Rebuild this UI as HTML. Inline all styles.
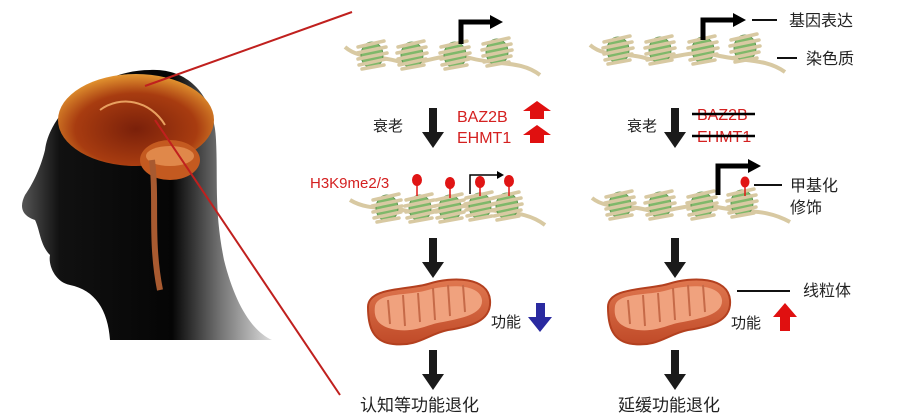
<!DOCTYPE html>
<html><head><meta charset="utf-8"><style>
body{margin:0;background:#fff;}
svg{display:block;}
text{font-family:"Liberation Sans","Noto Sans CJK SC",sans-serif;}
</style></head><body>
<svg width="900" height="417" viewBox="0 0 900 417" xmlns="http://www.w3.org/2000/svg">
<defs>
<radialGradient id="brain" cx="0.5" cy="0.6" r="0.65"><stop offset="0" stop-color="#7a200a"/><stop offset="0.6" stop-color="#a83c10"/><stop offset="0.9" stop-color="#e0902e"/><stop offset="1" stop-color="#f2c070"/></radialGradient>
<linearGradient id="head" x1="0" x2="1"><stop offset="0" stop-color="#555"/><stop offset="0.15" stop-color="#111"/><stop offset="0.6" stop-color="#050505"/><stop offset="0.8" stop-color="#777"/><stop offset="1" stop-color="#ddd"/></linearGradient>
<linearGradient id="mito" x1="0" y1="0" x2="0" y2="1"><stop offset="0" stop-color="#e07850"/><stop offset="1" stop-color="#c04a28"/></linearGradient>
<g id="nuc">
<ellipse cx="0" cy="0" rx="11" ry="13" fill="#7fb86a" stroke="#5f9450" stroke-width="1"/>
<path d="M-14,-8 L12,-14 M-15,-2 L14,-8 M-14,4 L15,-2 M-13,10 L14,4 M-10,14 L12,10" stroke="#d8c9a2" stroke-width="3.5" stroke-linecap="round" fill="none"/>
</g>
<g id="bigdn"><polygon points="-4,0 4,0 4,24 11,24 0,40 -11,24 -4,24" fill="#1a1a1a"/></g>
<g id="mitog">
<path d="M-60,-5 C-60,-25 -20,-22 0,-28 C25,-36 60,-35 62,-12 C64,10 40,15 20,18 C0,22 -10,35 -35,32 C-55,30 -60,15 -60,-5Z" fill="url(#mito)" stroke="#b3401f" stroke-width="2"/>
<path d="M-53,-6 C-50,-20 -20,-16 0,-22 C22,-28 52,-28 54,-12 C55,2 35,6 15,10 C0,12 -10,20 -30,18 C-48,16 -55,8 -53,-6Z" fill="#f0a27e"/>
<path d="M-40,-12 L-38,12 M-25,-17 L-23,14 M-10,-19 L-8,10 M5,-24 L7,8 M20,-27 L22,4 M35,-27 L37,0" stroke="#c66a48" stroke-width="2" fill="none"/>
</g>
</defs>

<!-- head -->
<path d="M150,70 C188,68 214,95 216,140 C218,180 214,210 224,260 C234,300 250,330 272,340 L110,340 C108,310 95,290 70,285 C55,282 48,265 50,255 C40,245 40,230 35,220 C20,215 20,205 25,195 C32,185 40,170 45,150 C50,110 100,70 150,70Z" fill="url(#head)"/>
<ellipse cx="136" cy="120" rx="78" ry="46" fill="url(#brain)"/>
<ellipse cx="170" cy="160" rx="30" ry="20" fill="#c45a20"/>
<ellipse cx="170" cy="156" rx="24" ry="10" fill="#e0884a"/>
<path d="M152,160 C157,200 150,240 160,290" stroke="#a85a30" stroke-width="6" fill="none"/>
<path d="M100,110 C120,95 150,100 165,125" stroke="#e8a060" stroke-width="2" fill="none"/>
<!-- red lines -->
<line x1="145" y1="86" x2="352" y2="12" stroke="#c0201e" stroke-width="2"/>
<line x1="155" y1="120" x2="340" y2="395" stroke="#c0201e" stroke-width="2"/>

<!-- left top chromatin -->
<path d="M345,47 C360,60 380,55 400,62 C420,68 440,50 470,58 C500,66 520,60 540,75" stroke="#d8c9a2" stroke-width="4" fill="none"/>
<use href="#nuc" x="372" y="55"/><use href="#nuc" x="412" y="55"/><use href="#nuc" x="455" y="55"/><use href="#nuc" x="497" y="52"/>
<path d="M461,44 L461,22 L492,22" stroke="#000" stroke-width="5" fill="none"/><polygon points="490,15 503,22 490,29" fill="#000"/>

<!-- right top chromatin -->
<path d="M590,45 C605,58 625,52 645,58 C665,64 685,48 715,55 C745,62 765,58 785,72" stroke="#d8c9a2" stroke-width="4" fill="none"/>
<use href="#nuc" x="618" y="50"/><use href="#nuc" x="660" y="50"/><use href="#nuc" x="703" y="50"/><use href="#nuc" x="745" y="48"/>
<path d="M703,40 L703,20 L735,20" stroke="#000" stroke-width="5" fill="none"/><polygon points="733,13 746,20 733,27" fill="#000"/>

<!-- arrows row1 -->
<use href="#bigdn" x="433" y="108"/>
<use href="#bigdn" x="675" y="108"/>
<text x="373" y="131" font-size="15" fill="#222">衰老</text>
<text x="457" y="122" font-size="16" fill="#d42020">BAZ2B</text>
<text x="457" y="143" font-size="16" fill="#d42020">EHMT1</text>
<polygon points="537,101 551,111 544,111 544,119 530,119 530,111 523,111" fill="#e01010"/>
<polygon points="537,125 551,135 544,135 544,143 530,143 530,135 523,135" fill="#e01010"/>
<text x="627" y="131" font-size="15" fill="#222">衰老</text>
<text x="697" y="120" font-size="16" fill="#d42020">BAZ2B</text>
<text x="697" y="142" font-size="16" fill="#d42020">EHMT1</text>
<line x1="692" y1="114" x2="755" y2="114" stroke="#000" stroke-width="2.5"/>
<line x1="692" y1="136" x2="755" y2="136" stroke="#000" stroke-width="2.5"/>

<!-- left row2 -->
<text x="310" y="188" font-size="15" fill="#d42020">H3K9me2/3</text>
<path d="M350,200 C370,212 390,205 410,212 C430,218 450,200 480,208 C505,214 525,210 545,225" stroke="#d8c9a2" stroke-width="4" fill="none"/>
<use href="#nuc" x="387" y="208"/><use href="#nuc" x="420" y="208"/><use href="#nuc" x="450" y="208"/><use href="#nuc" x="480" y="206"/><use href="#nuc" x="507" y="206"/>
<path d="M470,194 L470,175 L499,175" stroke="#000" stroke-width="1.5" fill="none"/><polygon points="497,171 504,175 497,179" fill="#000"/>
<g fill="#e01515" stroke="#e01515">
<line x1="417" y1="182" x2="417" y2="196" stroke-width="1.5"/><ellipse cx="417" cy="180" rx="4.5" ry="5.5"/>
<line x1="450" y1="186" x2="450" y2="198" stroke-width="1.5"/><ellipse cx="450" cy="183" rx="4.5" ry="5.5"/>
<line x1="480" y1="185" x2="480" y2="196" stroke-width="1.5"/><ellipse cx="480" cy="182" rx="4.5" ry="5.5"/>
<line x1="509" y1="183" x2="509" y2="196" stroke-width="1.5"/><ellipse cx="509" cy="181" rx="4.5" ry="5.5"/>
</g>

<!-- right row2 -->
<path d="M592,198 C607,210 627,204 647,210 C667,216 687,200 717,207 C745,213 765,208 790,222" stroke="#d8c9a2" stroke-width="4" fill="none"/>
<use href="#nuc" x="620" y="205"/><use href="#nuc" x="660" y="205"/><use href="#nuc" x="702" y="205"/><use href="#nuc" x="742" y="203"/>
<path d="M718,195 L718,166 L750,166" stroke="#000" stroke-width="5" fill="none"/><polygon points="748,159 761,166 748,173" fill="#000"/>
<line x1="745" y1="186" x2="745" y2="196" stroke="#e01515" stroke-width="1.5"/><ellipse cx="745" cy="182" rx="4.5" ry="5.5" fill="#e01515"/>

<!-- right labels -->
<line x1="752" y1="20" x2="777" y2="20" stroke="#111" stroke-width="2"/>
<text x="789" y="26" font-size="16" fill="#222">基因表达</text>
<line x1="777" y1="58" x2="797" y2="58" stroke="#111" stroke-width="2"/>
<text x="806" y="64" font-size="16" fill="#222">染色质</text>
<line x1="754" y1="185" x2="782" y2="185" stroke="#111" stroke-width="2"/>
<text x="790" y="191" font-size="16" fill="#222">甲基化</text>
<text x="790" y="213" font-size="16" fill="#222">修饰</text>
<line x1="737" y1="291" x2="790" y2="291" stroke="#111" stroke-width="2"/>
<text x="803" y="296" font-size="16" fill="#222">线粒体</text>

<!-- arrows row2 -->
<use href="#bigdn" x="433" y="238"/>
<use href="#bigdn" x="675" y="238"/>

<!-- mitochondria -->
<use href="#mitog" x="428" y="312"/>
<use href="#mitog" x="668" y="312"/>
<text x="491" y="327" font-size="15" fill="#222">功能</text>
<polygon points="536,303 545,303 545,317 552,317 540,332 528,317 536,317" fill="#2a2aa0"/>
<text x="731" y="328" font-size="15" fill="#222">功能</text>
<polygon points="785,303 797,317 790,317 790,331 780,331 780,317 773,317" fill="#e01010"/>

<use href="#bigdn" x="433" y="350"/>
<use href="#bigdn" x="675" y="350"/>
<text x="360" y="411" font-size="17" fill="#222">认知等功能退化</text>
<text x="618" y="411" font-size="17" fill="#222">延缓功能退化</text>
</svg>
</body></html>
